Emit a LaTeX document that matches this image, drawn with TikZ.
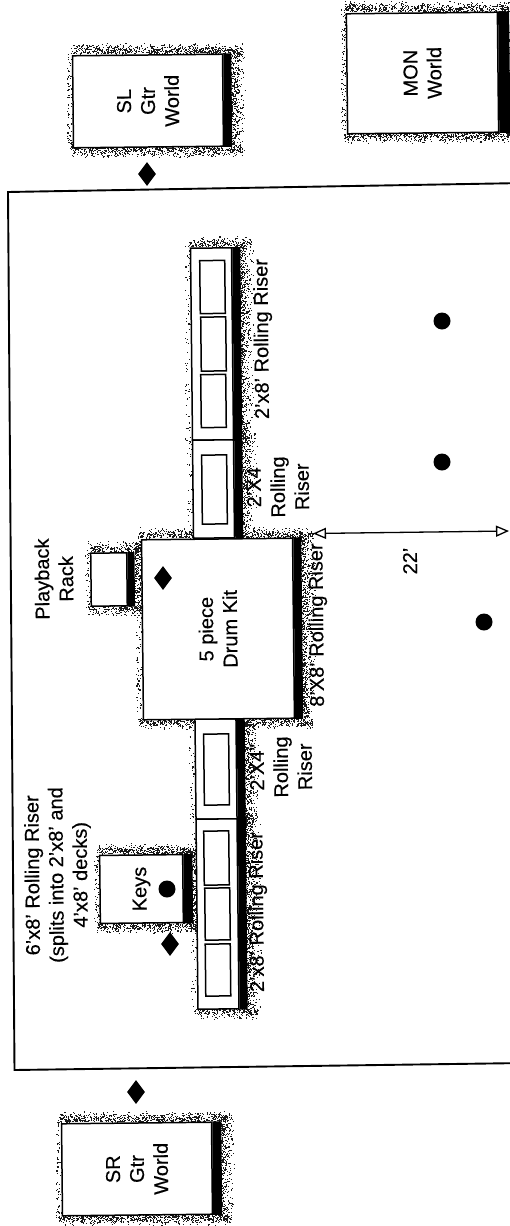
\documentclass[tikz,border=0pt]{standalone}
\usepackage{fontspec}
\setmainfont[FakeBold=0.35]{Liberation Sans}
\usetikzlibrary{shapes.geometric,arrows.meta}
\tikzset{
  x=1pt,y=-1pt,
  stagebox/.style={draw=black,fill=white,line width=1.5pt,rotate=90.6,inner sep=0pt,align=center,font=\fontsize{20}{24}\selectfont},
  deck/.style={draw=black,fill=white,line width=1.5pt,rotate=0.6,inner sep=0pt},
  lbl/.style={rotate=90.6,inner sep=0pt,align=center,font=\fontsize{20}{24}\selectfont},
  marker/.style={diamond,fill=black,inner sep=0pt,minimum width=18pt,minimum height=24pt},
  spot/.style={circle,fill=black,inner sep=0pt,minimum size=17pt},
}
% speckled halo round a box: x1,y1,x2,y2, then dots on top, bottom, right, left
\newcommand{\halo}[8]{%
  \draw[black!90,line width=1.1pt]
    foreach \i in {1,...,#5}{ ({#1-3+rnd*(#3-#1+22)},{#2-1-rnd*(0.35+0.65*rnd)*11}) -- ++(1.1,0) }
    foreach \i in {1,...,#6}{ ({#1-3+rnd*(#3-#1+22)},{#4+rnd*(0.35+0.65*rnd)*11}) -- ++(1.1,0) }
    foreach \i in {1,...,#7}{ ({#3+7+rnd*(0.2+0.8*rnd)*16},{#2-6+rnd*(#4-#2+12)}) -- ++(1.1,0) }
    foreach \i in {1,...,#8}{ ({#1-1-rnd*5},{#2-3+rnd*(#4-#2+6)}) -- ++(1.1,0) };
}
% black drop-shadow strip on the right edge of a rotated stage box
\newcommand{\strip}[2]{%
  \fill[black] (#1.south east) -- ++(#2,0) -- ([xshift=#2pt]#1.south west) -- (#1.south west) -- cycle;
}
\newcommand{\rstrip}[1]{%
  \fill[black] (#1.north east) -- ++(8,0) -- ([xshift=8pt]#1.south east) -- (#1.south east) -- cycle;
}
\begin{document}
\begin{tikzpicture}
\pgfmathsetseed{4711}
\useasboundingbox (0,0) rectangle (509,1226);
\fill[white] (0,0) rectangle (509,1226);

% stage outline
\coordinate (tr) at (525,183);
\coordinate (tl) at (8,192);
\coordinate (bl) at (14.5,1070);
\coordinate (br) at (525,1063);
\draw[line width=1.9pt,line join=miter] (tr) -- (tl) -- (bl) -- (br);

% halos
\halo{73}{55}{223}{147}{650}{650}{450}{80}
\halo{347}{13}{498}{133}{650}{650}{100}{110}
\halo{62}{1123}{212}{1215}{650}{650}{450}{80}
\halo{142}{539}{293}{719}{650}{650}{850}{120}
\halo{91}{553}{127}{606}{200}{200}{230}{40}
\halo{100}{855}{183}{923}{420}{420}{300}{60}
\halo{191}{248}{232}{440}{200}{0}{850}{70}
\halo{193}{440}{234}{538}{0}{0}{450}{40}
\halo{195}{719}{237}{819}{0}{0}{450}{40}
\halo{197}{819}{238}{1009}{0}{200}{850}{70}

% risers
\node[deck,minimum width=41pt,minimum height=192pt] (riserA) at (212,344) {};
\node[deck,minimum width=41pt,minimum height=98pt] (riserB) at (213.5,489) {};
\node[deck,minimum width=41pt,minimum height=100pt] (riserC) at (216,769) {};
\node[deck,minimum width=41pt,minimum height=190pt] (riserD) at (217.5,914) {};
\rstrip{riserA}
\rstrip{riserB}
\rstrip{riserC}
\rstrip{riserD}

% deck panels
\node[deck,minimum width=25pt,minimum height=53pt] (p1) at (212.5,287) {};
\node[deck,minimum width=25pt,minimum height=54pt] (p2) at (213.5,344) {};
\node[deck,minimum width=25pt,minimum height=53pt] (p3) at (213.5,401) {};
\node[deck,minimum width=25pt,minimum height=69pt] (p4) at (214.5,489.5) {};
\node[deck,minimum width=25pt,minimum height=71pt] (p5) at (216.5,769.5) {};
\node[deck,minimum width=25pt,minimum height=54pt] (p6) at (216.5,858) {};
\node[deck,minimum width=25pt,minimum height=52pt] (p7) at (217.5,914) {};
\node[deck,minimum width=25pt,minimum height=52pt] (p8) at (218,970) {};

% stage boxes
\node[stagebox,minimum width=92pt,minimum height=150pt] (sl) at (148,101) {SL\\Gtr\\World};
\strip{sl}{8}
\node[stagebox,minimum width=120pt,minimum height=151pt] (mon) at (422.5,73) {MON\\World};
\strip{mon}{11}
\node[stagebox,minimum width=92pt,minimum height=150pt] (sr) at (137,1169) {SR\\Gtr\\World};
\strip{sr}{9}
\node[stagebox,minimum width=180pt,minimum height=151pt] (drum) at (218,629) {5 piece\\Drum Kit};
\strip{drum}{8}
\node[stagebox,minimum width=53pt,minimum height=36pt] (rack) at (109,579.5) {};
\strip{rack}{7}
\node[stagebox,minimum width=68pt,minimum height=83pt] (keys) at (141.5,889) {Keys};
\strip{keys}{9}

% markers
\node[marker] (m1) at (147,174) {};
\node[marker] (m2) at (163,578) {};
\node[marker] (m3) at (170,944) {};
\node[marker] (m4) at (136,1092) {};

% performers
\node[spot] (s1) at (442,321) {};
\node[spot] (s2) at (442,462) {};
\node[spot] (s3) at (484,622) {};
\node[spot] (s4) at (167,889) {};

% 22' dimension
\coordinate (dimA) at (313,533.5);
\coordinate (dimB) at (509,531);
\draw[line width=1.3pt,{Triangle[open,length=13pt,width=11pt,fill=white]}-{Triangle[open,length=13pt,width=11pt,fill=white]}] (dimA) -- (dimB);
\node[lbl] (dimL) at (410,561) {22'};

% labels
\node[lbl] (l1) at (54,579) {Playback\\Rack};
\node[lbl] (l2) at (58,875) {6'x8' Rolling Riser\\(splits into 2'x8' and\\4'x8' decks)};
\node[lbl] (l3) at (263,339) {2'x8' Rolling Riser};
\node[lbl] (l4) at (278,487) {2'X4\\Rolling\\Riser};
\node[lbl] (l5) at (318,625) {8'X8' Rolling Riser};
\node[lbl] (l6) at (281,767) {2'X4''\\Rolling\\Riser};
\node[lbl] (l7) at (258,912) {2'x8' Rolling Riser};
\end{tikzpicture}
\end{document}
